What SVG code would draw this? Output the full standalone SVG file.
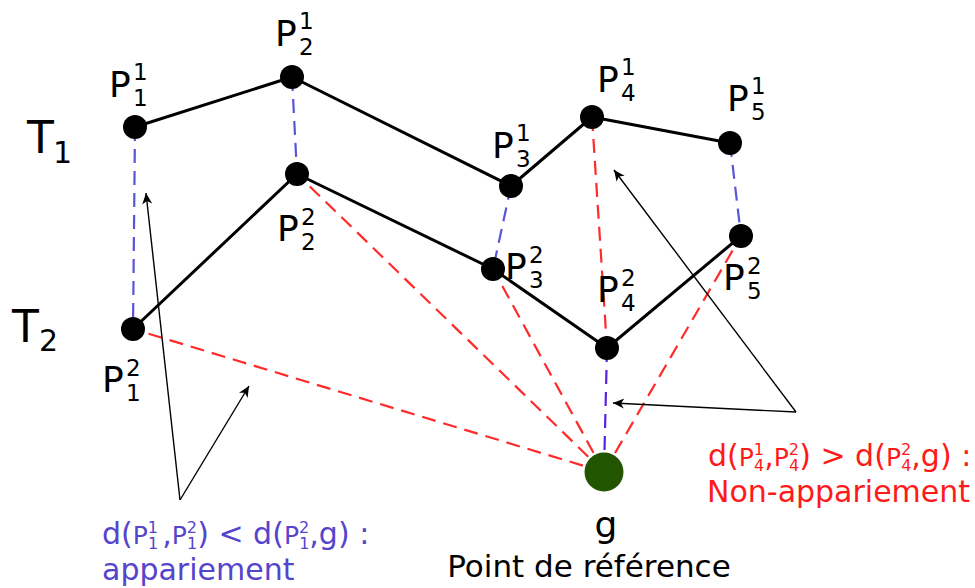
<svg xmlns="http://www.w3.org/2000/svg" width="975" height="588" viewBox="0 0 975 588">
<style>
text{font-family:"DejaVu Sans","Liberation Sans",sans-serif;}
.P{font-size:36px;fill:#000}
.s{font-size:23px;fill:#000}
.T{font-size:44px;fill:#000}
.Ts{font-size:30px;fill:#000}
.traj{fill:none;stroke:#000;stroke-width:3;stroke-linejoin:round}
.blue{stroke:#5a55d8;stroke-width:2.2;stroke-dasharray:14 8;fill:none}
.blue2{stroke:#5522dd;stroke-width:2.2;stroke-dasharray:14 8;fill:none}
.red{stroke:#ff2a2a;stroke-width:2.2;stroke-dasharray:14 8;fill:none}
.arr{stroke:#000;stroke-width:1.4;fill:none}
.node{fill:#000}
.lb{font-size:30px;fill:#5544cc}
.lr{font-size:30px;fill:#ff1a1a}
.in{font-size:25px}
.sc{font-size:16px}
</style>
<defs>
<marker id="ah" viewBox="-12 -6 14 12" markerWidth="14" markerHeight="12" refX="0" refY="0" orient="auto" markerUnits="userSpaceOnUse">
<path d="M0,0 L-11,-5 L-8,0 L-11,5 Z" fill="#000"/>
</marker>
</defs>
<g id="connectors">
<polyline class="traj" points="135,127 292,77 511,186 592,117 730,143"/>
<polyline class="traj" points="133,329 297,174 493,269 607,348 741,236"/>
<line class="blue" x1="135" y1="127" x2="133" y2="329"/>
<line class="blue" x1="292" y1="77" x2="297" y2="174"/>
<line class="blue" x1="511" y1="186" x2="493" y2="269"/>
<line class="blue" x1="730" y1="143" x2="741" y2="236"/>
<line class="red" x1="592" y1="117" x2="607" y2="348"/>
<line class="blue2" x1="607" y1="348" x2="604" y2="472"/>
<line class="red" x1="604" y1="472" x2="133" y2="329"/>
<line class="red" x1="604" y1="472" x2="297" y2="174"/>
<line class="red" x1="604" y1="472" x2="493" y2="269"/>
<line class="red" x1="604" y1="472" x2="741" y2="236"/>
<line class="arr" x1="180" y1="500" x2="146" y2="193" marker-end="url(#ah)"/>
<line class="arr" x1="180" y1="500" x2="249" y2="386" marker-end="url(#ah)"/>
<line class="arr" x1="796" y1="412" x2="614" y2="170" marker-end="url(#ah)"/>
<line class="arr" x1="796" y1="412" x2="613" y2="403" marker-end="url(#ah)"/>
</g>
<g id="T1"><text class="T" x="27" y="153">T</text><text class="Ts" x="53" y="163">1</text></g>
<g id="T2"><text class="T" x="12" y="342">T</text><text class="Ts" x="39" y="351">2</text></g>
<g id="P1_1"><circle class="node" cx="135" cy="127" r="12"/><text class="P" x="109" y="97">P</text><text class="s" x="133" y="80">1</text><text class="s" x="133" y="106">1</text></g>
<g id="P2_1"><circle class="node" cx="292" cy="77" r="12"/><text class="P" x="275" y="46">P</text><text class="s" x="299" y="29">1</text><text class="s" x="299" y="55">2</text></g>
<g id="P3_1"><circle class="node" cx="511" cy="186" r="12"/><text class="P" x="492" y="158">P</text><text class="s" x="516" y="141">1</text><text class="s" x="516" y="167">3</text></g>
<g id="P4_1"><circle class="node" cx="592" cy="117" r="12"/><text class="P" x="597" y="92">P</text><text class="s" x="621" y="75">1</text><text class="s" x="621" y="101">4</text></g>
<g id="P5_1"><circle class="node" cx="730" cy="143" r="12"/><text class="P" x="727" y="111">P</text><text class="s" x="751" y="94">1</text><text class="s" x="751" y="120">5</text></g>
<g id="P1_2"><circle class="node" cx="133" cy="329" r="12"/><text class="P" x="102" y="392">P</text><text class="s" x="126" y="376">2</text><text class="s" x="126" y="401">1</text></g>
<g id="P2_2"><circle class="node" cx="297" cy="174" r="12"/><text class="P" x="277" y="241">P</text><text class="s" x="301" y="225">2</text><text class="s" x="301" y="250">2</text></g>
<g id="P3_2"><circle class="node" cx="493" cy="269" r="12"/><text class="P" x="505" y="279">P</text><text class="s" x="529" y="263">2</text><text class="s" x="529" y="288">3</text></g>
<g id="P4_2"><circle class="node" cx="607" cy="348" r="12"/><text class="P" x="597" y="302">P</text><text class="s" x="621" y="286">2</text><text class="s" x="621" y="311">4</text></g>
<g id="P5_2"><circle class="node" cx="741" cy="236" r="12"/><text class="P" x="723" y="290">P</text><text class="s" x="747" y="274">2</text><text class="s" x="747" y="299">5</text></g>
<g id="g"><circle cx="604" cy="472" r="19.5" fill="#225500"/><text x="606" y="537" font-size="36" text-anchor="middle" fill="#000">g</text><text x="589" y="577" font-size="31" text-anchor="middle" fill="#000">Point de référence</text></g>
<g id="label-appariement">
<text class="lb" x="102" y="544">d(<tspan class="in">P</tspan><tspan class="sc" dy="-11">1</tspan><tspan class="sc" dx="-10" dy="16">1</tspan><tspan dx="4" dy="-5">,</tspan><tspan class="in">P</tspan><tspan class="sc" dy="-11">2</tspan><tspan class="sc" dx="-10" dy="16">1</tspan><tspan dy="-5">) &lt; d(</tspan><tspan class="in">P</tspan><tspan class="sc" dy="-11">2</tspan><tspan class="sc" dx="-10" dy="16">1</tspan><tspan dy="-5">,g) :</tspan></text>
<text class="lb" x="102" y="580">appariement</text>
</g>
<g id="label-non-appariement">
<text class="lr" x="708" y="466">d(<tspan class="in">P</tspan><tspan class="sc" dy="-11">1</tspan><tspan class="sc" dx="-10" dy="16">4</tspan><tspan dy="-5">,</tspan><tspan class="in">P</tspan><tspan class="sc" dy="-11">2</tspan><tspan class="sc" dx="-10" dy="16">4</tspan><tspan dy="-5">) &gt; d(</tspan><tspan class="in">P</tspan><tspan class="sc" dy="-11">2</tspan><tspan class="sc" dx="-10" dy="16">4</tspan><tspan dy="-5">,g) :</tspan></text>
<text class="lr" x="707" y="502">Non-appariement</text>
</g>
</svg>
